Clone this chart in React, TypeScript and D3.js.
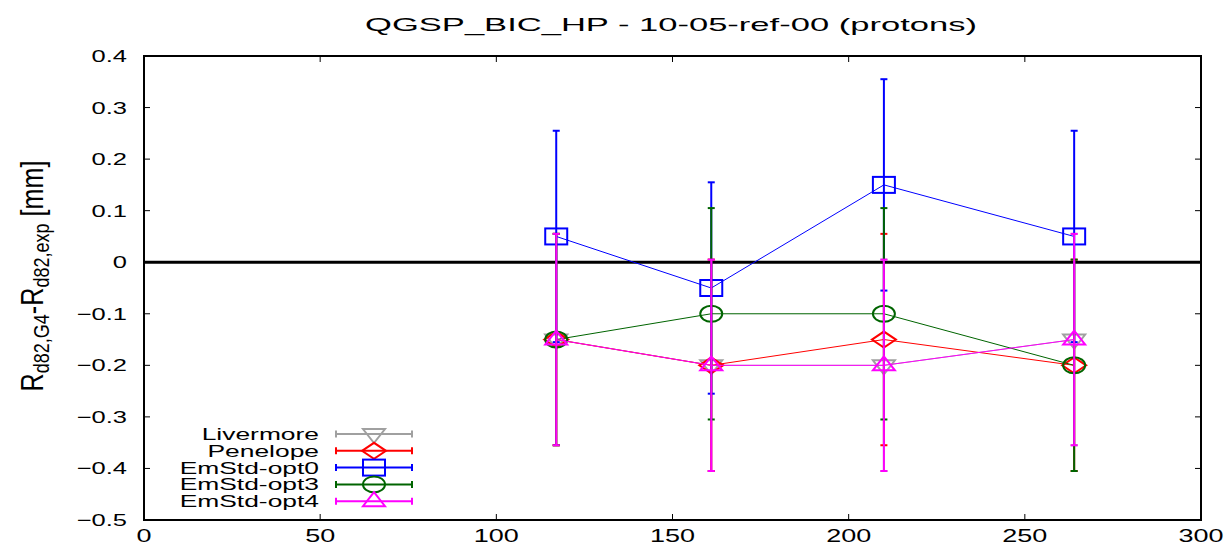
import React from "react";
import * as d3 from "d3";

const energies = [117, 161, 210, 264];
const livermore = [-0.15, -0.2, -0.2, -0.15];
const penelope = [-0.15, -0.2, -0.15, -0.2];
const opt0 = [0.05, -0.05, 0.15, 0.05];
const opt3 = [-0.15, -0.1, -0.1, -0.2];
const opt4 = [-0.15, -0.2, -0.2, -0.15];
const errLivermore = [0.205, 0.205, 0.205, 0.205];
const errPenelope = [0.205, 0.205, 0.205, 0.205];
const errOpt0 = [0.205, 0.205, 0.205, 0.205];
const errOpt3 = [0.205, 0.205, 0.205, 0.205];
const errOpt4 = [0.205, 0.205, 0.205, 0.205];
const xTicks = [0, 50, 100, 150, 200, 250, 300];
const yTicks = [-0.5, -0.4, -0.3, -0.2, -0.1, 0, 0.1, 0.2, 0.3, 0.4];
const seriesNames = ["Livermore", "Penelope", "EmStd-opt0", "EmStd-opt3", "EmStd-opt4"];
const title = "QGSP_BIC_HP - 10-05-ref-00 (protons)";

const W = 1229;
const H = 545;
const L = 144, R = 1201, T = 56, B = 520;

const series = [
  { name: seriesNames[0], values: livermore, errs: errLivermore, color: "#a0a0a0", marker: "tdown" },
  { name: seriesNames[1], values: penelope, errs: errPenelope, color: "#ff0000", marker: "diamond" },
  { name: seriesNames[2], values: opt0, errs: errOpt0, color: "#0000ff", marker: "square" },
  { name: seriesNames[3], values: opt3, errs: errOpt3, color: "#006400", marker: "circle" },
  { name: seriesNames[4], values: opt4, errs: errOpt4, color: "#ff00ff", marker: "tup" },
];

const FONT = "'Liberation Sans', Arial, Helvetica, sans-serif";
const SX = 1.5;

function Marker({ type, x, y, color }: { type: string; x: number; y: number; color: string }) {
  const sw = 2;
  if (type === "square") return <rect x={x - 11} y={y - 8} width={22} height={16} fill="none" stroke={color} strokeWidth={sw} />;
  if (type === "circle") return <ellipse cx={x} cy={y} rx={11} ry={8} fill="none" stroke={color} strokeWidth={sw} />;
  if (type === "diamond") return <path d={`M${x - 12},${y} L${x},${y - 8} L${x + 12},${y} L${x},${y + 8} Z`} fill="none" stroke={color} strokeWidth={sw} />;
  if (type === "tup") return <path d={`M${x - 11},${y + 5} L${x + 11},${y + 5} L${x},${y - 9} Z`} fill="none" stroke={color} strokeWidth={sw} />;
  return <path d={`M${x - 11},${y - 5} L${x + 11},${y - 5} L${x},${y + 9} Z`} fill="none" stroke={color} strokeWidth={sw} />;
}

export default function App() {
  const x = d3.scaleLinear().domain([0, 300]).range([L, R]);
  const y = d3.scaleLinear().domain([-0.5, 0.4]).range([B, T]);
  const line = d3.line<number>().x((_, i) => x(energies[i])).y((d) => y(d));

  const legendY0 = 434;
  const legendDy = 16.8;

  return (
    <svg width={W} height={H} style={{ position: "absolute", left: 0, top: 0, background: "#fff" }} fontFamily={FONT}>
      <rect x={0} y={0} width={W} height={H} fill="#fff" />
      {/* title */}
      <text transform={`translate(671,31) scale(1.82,1)`} textAnchor="middle" fontSize={19} fill="#000">{title}</text>
      {/* y label */}
      <text transform={`translate(43,276) rotate(-90) scale(1.2,1.45)`} textAnchor="middle" fontSize={21} fill="#000">
        R<tspan fontSize={15} dy={4}>d82,G4</tspan><tspan dy={-4}>-R</tspan><tspan fontSize={15} dy={4}>d82,exp</tspan><tspan dy={-4}> [mm]</tspan>
      </text>
      {/* ticks */}
      {yTicks.map((t) => (
        <g key={"y" + t}>
          <line x1={L} x2={L + 6} y1={y(t)} y2={y(t)} stroke="#000" strokeWidth={1} />
          <line x1={R} x2={R - 6} y1={y(t)} y2={y(t)} stroke="#000" strokeWidth={1} />
          <text transform={`translate(127,${y(t) + 6}) scale(${SX},1)`} textAnchor="end" fontSize={17} fill="#000">{t === 0 ? "0" : d3.format(".1f")(t)}</text>
        </g>
      ))}
      {xTicks.map((t) => (
        <g key={"x" + t}>
          <line x1={x(t)} x2={x(t)} y1={B} y2={B - 6} stroke="#000" strokeWidth={1} />
          <line x1={x(t)} x2={x(t)} y1={T} y2={T + 6} stroke="#000" strokeWidth={1} />
          <text transform={`translate(${x(t)},542) scale(${SX},1)`} textAnchor="middle" fontSize={18} fill="#000">{String(t)}</text>
        </g>
      ))}
      {/* zero line */}
      <line x1={L} x2={R} y1={y(0)} y2={y(0)} stroke="#000" strokeWidth={3} />
      {/* series */}
      {series.map((s) => (
        <g key={s.name}>
          <path d={line(s.values) || ""} fill="none" stroke={s.color} strokeWidth={1} />
          {s.values.map((v, i) => {
            const px = x(energies[i]);
            const y1 = y(v + s.errs[i]);
            const y2 = y(v - s.errs[i]);
            return (
              <g key={i}>
                <line x1={px} x2={px} y1={y1} y2={y2} stroke={s.color} strokeWidth={2} />
                <line x1={px - 3.5} x2={px + 3.5} y1={y1} y2={y1} stroke={s.color} strokeWidth={2} />
                <line x1={px - 3.5} x2={px + 3.5} y1={y2} y2={y2} stroke={s.color} strokeWidth={2} />
                <Marker type={s.marker} x={px} y={y(v)} color={s.color} />
              </g>
            );
          })}
        </g>
      ))}
      {/* legend */}
      {series.map((s, i) => {
        const ly = legendY0 + i * legendDy;
        return (
          <g key={"leg" + s.name}>
            <text transform={`translate(319,${ly + 6}) scale(1.6,1)`} textAnchor="end" fontSize={16.5} fill="#000">{s.name}</text>
            <line x1={336} x2={412} y1={ly} y2={ly} stroke={s.color} strokeWidth={2} />
            <line x1={336} x2={336} y1={ly - 3.5} y2={ly + 3.5} stroke={s.color} strokeWidth={2} />
            <line x1={412} x2={412} y1={ly - 3.5} y2={ly + 3.5} stroke={s.color} strokeWidth={2} />
            <Marker type={s.marker} x={374} y={ly} color={s.color} />
          </g>
        );
      })}
      {/* frame */}
      <rect x={L} y={T} width={R - L} height={B - T} fill="none" stroke="#000" strokeWidth={2} />
    </svg>
  );
}
